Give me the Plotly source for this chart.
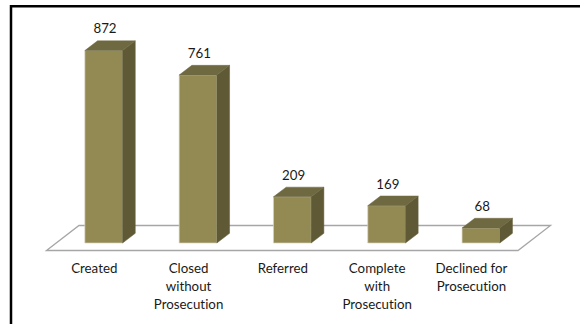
import plotly.graph_objects as go

categories = ["Created", "Closed", "Referred", "Complete", "Declined for"]
label_line2 = ["", "without", "", "with", "Prosecution"]
label_line3 = ["", "Prosecution", "", "Prosecution", ""]
values = [872, 761, 209, 169, 68]

W, H = 580, 324
X0, STEP = 103.7, 94.3      # pixel centre of first bar, pixel step between bars
Y0, PXU = 243.0, 0.2207     # pixel of value 0, pixels per value unit
XR = [(0 - X0) / STEP, (W - X0) / STEP]
YR = [(Y0 - H) / PXU, Y0 / PXU]
dx = 12.7 / STEP            # depth offset, x units
dy = 9.7 / PXU              # depth offset, y units
bw = 37.7 / STEP
ux = lambda p: (p - X0) / STEP
uy = lambda p: (Y0 - p) / PXU
xs = list(range(len(values)))

FRONT, SIDE, TOP, EDGE = "#938953", "#5f5a35", "#6f6941", "#d9d6c0"
fig = go.Figure()

# depth faces
for x, v in zip(xs, values):
    l, r = x - bw / 2, x + bw / 2
    fig.add_trace(go.Scatter(
        x=[r, r + dx, r + dx, r, r], y=[0, dy, v + dy, v, 0],
        mode="lines", fill="toself", fillcolor=SIDE,
        line=dict(color=SIDE, width=0.5), hoverinfo="skip", showlegend=False))
    fig.add_trace(go.Scatter(
        x=[l, l + dx, r + dx, r, l], y=[v, v + dy, v + dy, v, v],
        mode="lines", fill="toself", fillcolor=TOP,
        line=dict(color=TOP, width=0.5), hoverinfo="skip", showlegend=False))

# front faces
fig.add_trace(go.Bar(x=xs, y=values, width=bw, marker=dict(color=FRONT, line=dict(color=EDGE, width=0.7)),
                     showlegend=False))

# value labels
fig.add_trace(go.Scatter(
    x=[x + 0.014 for x in xs], y=[v + 20.5 / PXU for v in values], text=[str(v) for v in values],
    mode="text", textfont=dict(family="Lato", size=13.3, color="#1a1a1a"),
    hoverinfo="skip", showlegend=False))

# category labels, one trace per text line
for i, lines in enumerate([categories, label_line2, label_line3]):
    fig.add_trace(go.Scatter(
        x=[x - 0.1 for x in xs], y=[uy(269.5 + 18 * i)] * len(xs), text=lines,
        mode="text", textfont=dict(family="Lato", size=13.3, color="#1a1a1a"),
        hoverinfo="skip", showlegend=False))

floor_path = (f"M {ux(46.5)} {uy(250.5)} L {ux(79)} {uy(225.5)} "
              f"L {ux(550.5)} {uy(225.5)} L {ux(518)} {uy(250.5)} Z")

fig.update_layout(
    width=W, height=H, margin=dict(l=0, r=0, t=0, b=0),
    paper_bgcolor="white", plot_bgcolor="white", barmode="overlay",
    xaxis=dict(range=XR, visible=False, fixedrange=True),
    yaxis=dict(range=YR, visible=False, fixedrange=True),
    shapes=[
        dict(type="path", xref="x", yref="y", path=floor_path, layer="below",
             line=dict(color="#a6a6a6", width=1.3), fillcolor="rgba(0,0,0,0)"),
        dict(type="line", xref="paper", yref="paper", x0=10 / W, x1=1, y0=1 - 6.2 / H, y1=1 - 6.2 / H,
             line=dict(color="black", width=2.5)),
        dict(type="line", xref="paper", yref="paper", x0=11 / W, x1=11 / W, y0=0, y1=1 - 5 / H,
             line=dict(color="black", width=2.5)),
    ],
)
fig.write_html(
    "out.html",
    config={"displayModeBar": False},
    post_script=(
        "document.body.style.margin='0';document.body.style.overflow='hidden';"
        "document.head.insertAdjacentHTML('beforeend',"
        "'<style>svg text{font-variant-ligatures:none !important;"
        "font-feature-settings:\"liga\" 0,\"clig\" 0 !important;letter-spacing:0.01px}</style>');"
    ),
)
